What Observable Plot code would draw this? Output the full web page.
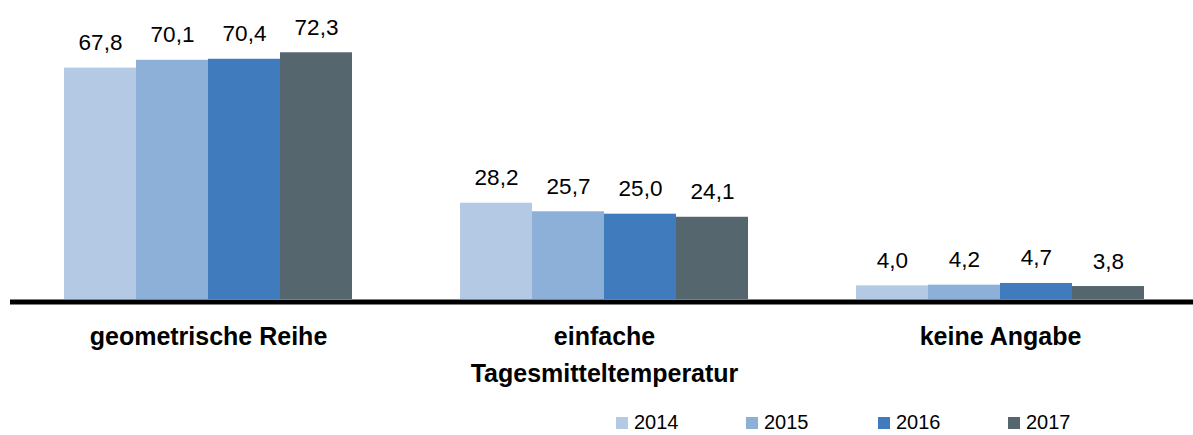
<!DOCTYPE html>
<html>
<head>
<meta charset="utf-8">
<script src="https://cdn.jsdelivr.net/npm/d3@7"></script>
<script src="https://cdn.jsdelivr.net/npm/@observablehq/plot@0.6"></script>
<style>
  body { margin: 0; background: #fff; font-family: "Liberation Sans", Arial, sans-serif; }
  #legend { position: relative; height: 35px; width: 1193px; }
  .item { position: absolute; top: 5px; height: 35px; display: flex; align-items: center; font-size: 20px; color: #000; }
  .sw { width: 12px; height: 12px; margin-right: 6px; }
</style>
</head>
<body>
<div id="chart"></div>
<div id="legend"></div>
<script>
const categories = ["geometrische Reihe", "einfache\nTagesmitteltemperatur", "keine Angabe"];
const years = ["2014", "2015", "2016", "2017"];
const values2014 = [67.8, 28.2, 4.0];
const values2015 = [70.1, 25.7, 4.2];
const values2016 = [70.4, 25.0, 4.7];
const values2017 = [72.3, 24.1, 3.8];
const colors = ["#b4c9e4", "#8db0d9", "#407bbe", "#56666e"];

const series = [values2014, values2015, values2016, values2017];
const data = [];
categories.forEach((c, i) => years.forEach((y, j) => data.push({category: c, year: y, value: series[j][i]})));

const fmt = v => d3.format(".1f")(v).replace(".", ",");

const chart = Plot.plot({
  width: 1193,
  height: 400,
  marginLeft: 63,
  marginRight: 48,
  marginTop: 26,
  marginBottom: 101,
  style: {fontFamily: "Liberation Sans, Arial, sans-serif", background: "#fff"},
  fx: {domain: categories, paddingInner: 0.2727, paddingOuter: 0, axis: null},
  x: {domain: years, padding: 0, axis: null},
  y: {domain: [0, 80], axis: null},
  color: {domain: years, range: colors},
  marks: [
    Plot.barY(data, {fx: "category", x: "year", y: "value", fill: "year"}),
    Plot.text(data, {fx: "category", x: "year", y: "value", text: d => fmt(d.value), lineAnchor: "bottom", dy: -18, fontSize: 22.5, fill: "#000"}),
    Plot.ruleY([0], {stroke: "#000", strokeWidth: 5, dy: 2.5, insetLeft: -54, insetRight: -54}),
    Plot.text(categories, {fx: d => d, text: d => d, frameAnchor: "bottom", lineAnchor: "top", dy: 19, fontSize: 25, fontWeight: "bold", lineHeight: 1.48, fill: "#000"})
  ]
});
document.getElementById("chart").appendChild(chart);

const legend = document.getElementById("legend");
const color = chart.scale("color");
const lefts = [616, 746, 878, 1008];
years.forEach((y, i) => {
  const it = document.createElement("div");
  it.className = "item";
  it.style.left = lefts[i] + "px";
  const sw = document.createElement("div");
  sw.className = "sw";
  sw.style.background = color.range[i];
  const t = document.createElement("span");
  t.textContent = y;
  it.appendChild(sw);
  it.appendChild(t);
  legend.appendChild(it);
});
</script>
</body>
</html>
